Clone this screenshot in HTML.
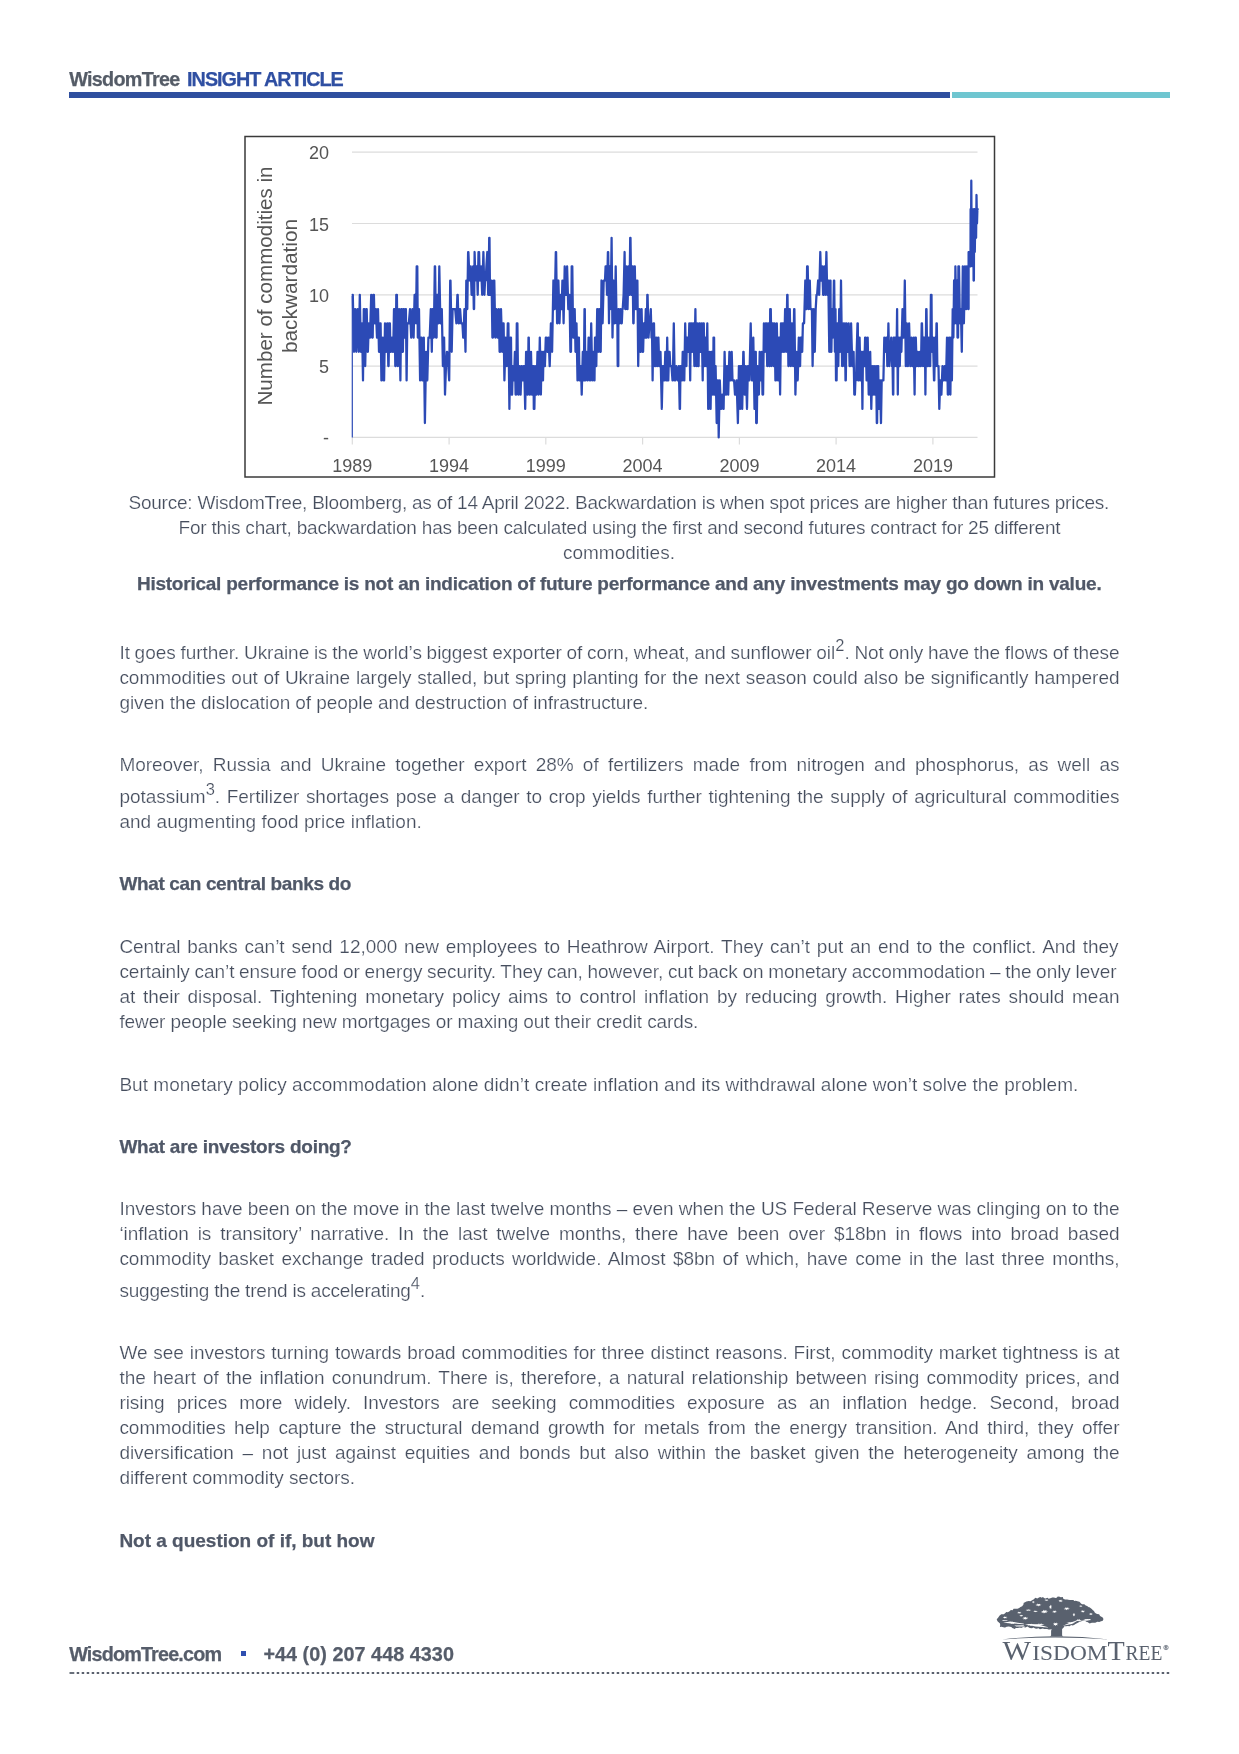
<!DOCTYPE html>
<html><head><meta charset="utf-8"><title>WisdomTree Insight Article</title>
<style>
html,body{margin:0;padding:0;background:#fff}
body{width:1239px;height:1754px;position:relative;overflow:hidden;font-family:"Liberation Sans",sans-serif}
.l{position:absolute;white-space:nowrap;height:26px;line-height:26px;font-size:19px;color:#464e5e;-webkit-text-stroke:0.22px #fff}
.b{position:absolute;white-space:nowrap;height:26px;line-height:26px;font-size:19px;color:#505868;font-weight:700;-webkit-text-stroke:0.25px #505868}
.sp{font-size:16.5px;position:relative;top:-8.2px;letter-spacing:0}
#pg{position:absolute;left:0;top:0;width:1239px;height:1754px;will-change:transform}
.hd{position:absolute;white-space:nowrap;font-weight:700;font-size:19.8px;-webkit-text-stroke:0.25px currentColor;height:26px;line-height:26px}
svg{position:absolute;left:0;top:0;overflow:visible}
</style></head><body><div id="pg">
<div class="hd" style="color:#555c67;left:69.2px;top:65.9px;letter-spacing:-0.706px">WisdomTree</div>
<div class="hd" style="color:#2f4fa2;left:187.1px;top:65.9px;letter-spacing:-1.000px">INSIGHT ARTICLE</div>
<div class="hd" style="color:#565d6a;left:69.2px;top:1641.0px;letter-spacing:-0.833px">WisdomTree.com</div>
<div class="hd" style="color:#565d6a;left:263.4px;top:1641.0px;letter-spacing:0.040px">+44 (0) 207 448 4330</div>
<div style="position:absolute;left:69px;top:92.3px;width:880.5px;height:5.6px;background:#2f4f9f"></div>
<div style="position:absolute;left:952px;top:92.3px;width:217.5px;height:5.6px;background:#6fc6d0"></div>
<svg width="1239" height="1754" viewBox="0 0 1239 1754">
<rect x="245" y="136.5" width="749.5" height="340.5" fill="#fff" stroke="#3a3a3a" stroke-width="1.5"/>
<line x1="352" y1="437.4" x2="977.5" y2="437.4" stroke="#dcdcdc" stroke-width="1.2"/><line x1="352" y1="366.1" x2="977.5" y2="366.1" stroke="#dcdcdc" stroke-width="1.2"/><line x1="352" y1="294.8" x2="977.5" y2="294.8" stroke="#dcdcdc" stroke-width="1.2"/><line x1="352" y1="223.5" x2="977.5" y2="223.5" stroke="#dcdcdc" stroke-width="1.2"/><line x1="352" y1="152.2" x2="977.5" y2="152.2" stroke="#dcdcdc" stroke-width="1.2"/><line x1="352.3" y1="437.4" x2="352.3" y2="444.5" stroke="#dcdcdc" stroke-width="1.2"/><line x1="449.1" y1="437.4" x2="449.1" y2="444.5" stroke="#dcdcdc" stroke-width="1.2"/><line x1="545.8" y1="437.4" x2="545.8" y2="444.5" stroke="#dcdcdc" stroke-width="1.2"/><line x1="642.6" y1="437.4" x2="642.6" y2="444.5" stroke="#dcdcdc" stroke-width="1.2"/><line x1="739.4" y1="437.4" x2="739.4" y2="444.5" stroke="#dcdcdc" stroke-width="1.2"/><line x1="836.1" y1="437.4" x2="836.1" y2="444.5" stroke="#dcdcdc" stroke-width="1.2"/><line x1="932.9" y1="437.4" x2="932.9" y2="444.5" stroke="#dcdcdc" stroke-width="1.2"/>
<g font-family="Liberation Sans, sans-serif" font-size="18" fill="#555555"><text x="352.3" y="472" text-anchor="middle">1989</text><text x="449.1" y="472" text-anchor="middle">1994</text><text x="545.8" y="472" text-anchor="middle">1999</text><text x="642.6" y="472" text-anchor="middle">2004</text><text x="739.4" y="472" text-anchor="middle">2009</text><text x="836.1" y="472" text-anchor="middle">2014</text><text x="932.9" y="472" text-anchor="middle">2019</text><text x="329" y="159.2" text-anchor="end">20</text><text x="329" y="230.5" text-anchor="end">15</text><text x="329" y="301.8" text-anchor="end">10</text><text x="329" y="373.1" text-anchor="end">5</text><text x="329" y="444.4" text-anchor="end">-</text><text font-size="20" transform="translate(271.8,286) rotate(-90)" text-anchor="middle" textLength="239" lengthAdjust="spacingAndGlyphs">Number of commodities in</text><text font-size="20" transform="translate(297.3,286) rotate(-90)" text-anchor="middle" textLength="134" lengthAdjust="spacingAndGlyphs">backwardation</text></g>
<path d="M352.6 294.8 L352.8 294.8 L354.0 351.8 L355.0 309.1 L355.3 309.1 L356.3 351.8 L357.6 309.1 L358.8 351.8 L359.8 294.8 L360.9 351.8 L362.0 323.3 L363.0 380.4 L363.8 309.1 L364.4 309.1 L365.2 366.1 L366.4 309.1 L366.7 309.1 L367.6 351.8 L367.9 351.8 L368.8 323.3 L370.0 337.6 L371.2 294.8 L372.1 337.6 L372.7 337.6 L373.3 294.8 L373.9 294.8 L374.6 323.3 L374.9 323.3 L375.9 309.1 L377.0 337.6 L378.0 309.1 L379.0 351.8 L379.3 351.8 L380.0 323.3 L380.6 323.3 L381.4 380.4 L381.7 380.4 L382.8 337.6 L383.8 380.4 L384.1 380.4 L385.0 323.3 L386.0 351.8 L386.3 351.8 L387.2 323.3 L387.5 323.3 L388.3 366.1 L388.6 366.1 L389.3 323.3 L389.9 323.3 L390.4 351.8 L391.0 351.8 L391.9 337.6 L392.9 351.8 L393.2 351.8 L394.0 309.1 L394.6 309.1 L395.3 366.1 L395.6 366.1 L396.3 294.8 L396.9 294.8 L397.7 366.1 L398.0 366.1 L399.1 309.1 L400.4 380.4 L401.2 309.1 L401.8 309.1 L402.3 351.8 L402.9 351.8 L403.4 309.1 L404.0 309.1 L404.8 337.6 L405.6 309.1 L405.9 309.1 L406.6 380.4 L407.3 323.3 L407.9 323.3 L408.8 323.3 L410.0 309.1 L411.2 337.6 L412.4 309.1 L413.6 337.6 L414.6 294.8 L415.2 294.8 L416.0 323.3 L416.7 266.3 L417.3 266.3 L417.8 337.6 L418.1 337.6 L419.0 309.1 L420.1 380.4 L421.0 337.6 L421.6 337.6 L422.3 380.4 L422.9 380.4 L423.8 337.6 L424.9 423.1 L426.1 351.8 L427.3 380.4 L428.4 337.6 L428.7 337.6 L429.7 337.6 L430.8 309.1 L431.8 351.8 L432.5 309.1 L433.1 309.1 L433.8 337.6 L434.8 266.3 L435.1 266.3 L436.0 337.6 L436.6 337.6 L437.0 294.8 L437.6 294.8 L437.9 323.3 L438.5 323.3 L439.3 266.3 L440.4 323.3 L440.7 323.3 L441.8 309.1 L442.9 366.1 L443.8 337.6 L444.1 337.6 L445.0 394.6 L446.0 366.1 L446.9 351.8 L447.2 351.8 L448.0 366.1 L448.3 366.1 L449.2 380.4 L450.2 280.5 L450.5 280.5 L451.7 351.8 L452.6 309.1 L453.2 309.1 L453.9 309.1 L454.2 309.1 L455.2 309.1 L456.4 323.3 L457.4 294.8 L457.7 294.8 L458.5 323.3 L459.1 323.3 L459.8 309.1 L460.1 309.1 L461.1 323.3 L462.1 323.3 L462.4 323.3 L463.2 337.6 L463.5 337.6 L464.4 309.1 L465.5 351.8 L466.3 280.5 L466.6 280.5 L467.3 309.1 L468.1 252.0 L468.4 252.0 L469.5 280.5 L470.7 266.3 L471.6 294.8 L472.2 294.8 L473.1 266.3 L473.8 309.1 L474.1 309.1 L474.6 252.0 L475.4 280.5 L476.3 266.3 L476.9 266.3 L477.7 294.8 L478.5 252.0 L479.1 252.0 L479.8 280.5 L480.1 280.5 L481.1 266.3 L482.2 294.8 L483.4 252.0 L484.4 294.8 L485.1 280.5 L485.7 280.5 L486.4 266.3 L487.3 252.0 L488.2 294.8 L488.5 294.8 L489.2 237.8 L489.5 237.8 L490.0 294.8 L490.6 294.8 L491.3 280.5 L491.6 280.5 L492.4 337.6 L493.0 337.6 L493.7 280.5 L494.3 280.5 L495.3 337.6 L496.5 309.1 L497.6 337.6 L498.8 309.1 L499.6 351.8 L500.2 351.8 L501.0 309.1 L502.2 351.8 L503.0 323.3 L503.6 323.3 L504.4 380.4 L505.6 337.6 L506.9 366.1 L507.8 323.3 L508.4 323.3 L509.4 408.9 L510.4 337.6 L511.0 337.6 L511.5 394.6 L512.1 394.6 L512.8 366.1 L513.7 380.4 L514.0 380.4 L514.9 351.8 L515.6 394.6 L516.2 394.6 L516.8 323.3 L517.4 323.3 L518.2 394.6 L518.5 394.6 L519.5 366.1 L520.6 394.6 L521.5 366.1 L521.8 366.1 L522.7 380.4 L523.6 366.1 L524.2 366.1 L525.2 408.9 L526.1 351.8 L526.7 351.8 L527.2 394.6 L527.8 394.6 L528.5 337.6 L528.8 337.6 L529.5 394.6 L530.1 394.6 L531.0 351.8 L532.0 394.6 L532.3 394.6 L532.9 366.1 L533.5 366.1 L533.8 408.9 L534.4 408.9 L535.1 366.1 L536.1 394.6 L536.4 394.6 L537.5 351.8 L538.7 394.6 L539.8 337.6 L540.9 394.6 L541.5 351.8 L542.1 351.8 L542.7 380.4 L543.0 380.4 L543.5 351.8 L544.1 351.8 L544.9 366.1 L545.8 337.6 L546.4 337.6 L547.3 351.8 L548.3 337.6 L548.6 337.6 L549.7 366.1 L550.9 323.3 L552.1 351.8 L553.4 280.5 L554.7 309.1 L555.8 252.0 L556.1 252.0 L557.1 323.3 L557.4 323.3 L558.4 280.5 L559.5 323.3 L560.5 294.8 L561.4 309.1 L561.7 309.1 L562.4 280.5 L562.7 280.5 L563.6 323.3 L564.7 266.3 L565.8 294.8 L566.1 294.8 L567.1 266.3 L568.3 309.1 L569.5 294.8 L570.4 351.8 L571.0 351.8 L571.7 266.3 L572.3 266.3 L573.1 337.6 L573.7 337.6 L574.4 309.1 L574.7 309.1 L575.5 351.8 L576.5 323.3 L577.5 380.4 L578.3 337.6 L578.9 337.6 L579.5 380.4 L579.8 380.4 L580.4 366.1 L581.0 366.1 L581.7 394.6 L582.8 351.8 L583.8 380.4 L584.5 309.1 L584.8 309.1 L585.3 380.4 L586.3 351.8 L587.4 380.4 L587.7 380.4 L588.6 337.6 L588.9 337.6 L589.9 380.4 L590.2 380.4 L591.2 323.3 L592.3 380.4 L593.3 351.8 L594.2 380.4 L594.5 380.4 L595.0 337.6 L595.6 337.6 L596.3 366.1 L597.2 309.1 L597.5 309.1 L598.3 351.8 L599.4 309.1 L600.1 351.8 L600.7 351.8 L601.5 280.5 L602.6 323.3 L603.7 280.5 L604.7 280.5 L605.0 280.5 L605.6 266.3 L606.2 266.3 L607.0 294.8 L607.9 252.0 L608.2 252.0 L609.0 323.3 L609.6 266.3 L610.2 266.3 L610.7 309.1 L611.6 237.8 L612.5 337.6 L613.5 280.5 L614.5 323.3 L614.8 323.3 L615.7 266.3 L616.6 323.3 L617.3 309.1 L617.7 366.1 L618.3 366.1 L618.4 309.1 L618.7 309.1 L619.4 323.3 L620.5 309.1 L621.2 323.3 L621.8 323.3 L622.4 309.1 L622.7 309.1 L623.6 294.8 L624.6 252.0 L625.2 309.1 L625.8 309.1 L626.5 266.3 L627.5 309.1 L628.5 266.3 L629.5 294.8 L630.2 237.8 L630.5 237.8 L631.2 294.8 L632.0 266.3 L632.6 266.3 L633.3 323.3 L633.6 323.3 L634.5 266.3 L634.8 266.3 L635.6 309.1 L636.2 309.1 L636.8 280.5 L637.4 280.5 L638.2 366.1 L639.2 309.1 L639.5 309.1 L640.2 351.8 L640.8 351.8 L641.6 309.1 L642.5 351.8 L643.1 351.8 L643.8 323.3 L644.1 323.3 L644.9 337.6 L645.8 309.1 L646.5 337.6 L646.8 337.6 L647.3 294.8 L647.6 294.8 L648.5 337.6 L649.5 323.3 L649.8 323.3 L650.8 309.1 L651.5 337.6 L652.1 337.6 L652.6 380.4 L653.4 323.3 L654.0 323.3 L654.7 366.1 L655.3 366.1 L656.0 337.6 L656.3 337.6 L657.2 366.1 L658.1 337.6 L658.4 337.6 L659.2 366.1 L659.5 366.1 L660.5 351.8 L661.8 408.9 L662.7 366.1 L663.3 366.1 L663.9 380.4 L664.5 380.4 L665.3 351.8 L666.2 380.4 L666.5 380.4 L667.2 337.6 L668.0 380.4 L668.3 380.4 L669.0 351.8 L669.6 351.8 L670.3 366.1 L670.6 366.1 L671.5 366.1 L672.5 380.4 L672.8 380.4 L673.8 323.3 L674.7 380.4 L675.3 380.4 L676.3 366.1 L677.7 380.4 L678.8 366.1 L679.7 408.9 L680.0 408.9 L680.5 366.1 L681.1 366.1 L681.5 380.4 L682.1 380.4 L682.7 351.8 L683.3 351.8 L684.0 380.4 L684.3 380.4 L685.2 323.3 L686.1 366.1 L686.4 366.1 L686.9 337.6 L687.5 337.6 L688.0 351.8 L688.6 351.8 L689.3 323.3 L690.2 380.4 L690.8 323.3 L691.4 323.3 L691.8 351.8 L692.4 351.8 L692.9 323.3 L693.5 323.3 L694.4 366.1 L695.4 309.1 L696.1 366.1 L696.4 366.1 L697.2 323.3 L698.0 366.1 L698.6 366.1 L699.2 323.3 L699.8 323.3 L700.3 351.8 L700.9 351.8 L701.7 323.3 L702.7 380.4 L703.2 323.3 L703.8 323.3 L704.3 366.1 L705.3 337.6 L706.1 366.1 L706.4 366.1 L707.3 323.3 L708.2 408.9 L708.5 408.9 L709.5 351.8 L710.6 408.9 L711.4 351.8 L712.0 351.8 L712.6 394.6 L713.2 394.6 L713.5 337.6 L714.1 337.6 L714.4 394.6 L715.0 394.6 L715.6 366.1 L716.7 423.1 L717.4 380.4 L718.0 380.4 L718.7 437.4 L719.8 380.4 L720.9 408.9 L721.2 408.9 L722.2 394.6 L723.3 408.9 L723.6 408.9 L724.6 351.8 L725.5 394.6 L726.1 394.6 L726.9 366.1 L727.2 366.1 L728.2 394.6 L729.4 351.8 L730.4 380.4 L730.7 380.4 L731.7 351.8 L732.5 380.4 L733.1 380.4 L734.1 380.4 L735.0 394.6 L735.6 394.6 L736.6 380.4 L737.9 423.1 L738.9 366.1 L739.2 366.1 L740.1 408.9 L740.8 366.1 L741.4 366.1 L742.2 408.9 L743.3 351.8 L743.6 351.8 L744.5 394.6 L744.8 394.6 L745.8 366.1 L747.0 408.9 L747.9 366.1 L748.5 366.1 L749.4 380.4 L750.7 323.3 L751.9 380.4 L752.2 380.4 L753.3 337.6 L754.5 408.9 L755.2 351.8 L755.8 351.8 L756.2 423.1 L756.8 423.1 L757.5 366.1 L758.3 394.6 L758.9 394.6 L759.7 351.8 L760.7 380.4 L761.8 351.8 L762.5 394.6 L763.1 394.6 L763.9 323.3 L765.0 351.8 L765.8 323.3 L766.4 323.3 L767.2 366.1 L768.2 323.3 L768.5 323.3 L769.2 366.1 L769.8 366.1 L770.2 309.1 L770.8 309.1 L771.5 366.1 L772.3 323.3 L772.9 323.3 L773.6 366.1 L774.6 323.3 L775.4 380.4 L776.0 380.4 L776.8 323.3 L778.0 380.4 L778.8 337.6 L779.4 337.6 L780.1 394.6 L781.0 323.3 L781.3 323.3 L782.1 351.8 L782.6 323.3 L783.2 323.3 L783.6 351.8 L784.2 351.8 L785.1 309.1 L786.2 351.8 L787.2 294.8 L787.5 294.8 L788.4 366.1 L788.7 366.1 L789.5 309.1 L789.8 309.1 L790.8 366.1 L791.8 323.3 L792.1 323.3 L793.0 366.1 L793.3 366.1 L794.1 309.1 L794.4 309.1 L795.4 394.6 L796.5 351.8 L797.7 380.4 L798.8 337.6 L799.8 366.1 L800.1 366.1 L800.6 337.6 L801.2 337.6 L801.6 351.8 L802.2 351.8 L802.9 323.3 L803.8 323.3 L804.1 323.3 L805.3 280.5 L806.3 309.1 L806.6 309.1 L807.1 266.3 L807.7 266.3 L808.5 309.1 L809.2 280.5 L809.8 280.5 L810.5 309.1 L811.3 309.1 L811.9 309.1 L812.6 366.1 L813.6 309.1 L814.5 351.8 L814.8 351.8 L815.7 309.1 L816.5 294.8 L817.1 294.8 L818.1 280.5 L819.2 294.8 L820.3 252.0 L821.1 280.5 L821.4 280.5 L822.3 266.3 L823.1 294.8 L823.7 294.8 L824.4 266.3 L825.4 294.8 L826.4 252.0 L827.2 294.8 L827.5 294.8 L828.3 280.5 L829.3 351.8 L829.9 280.5 L830.5 280.5 L830.8 351.8 L831.4 351.8 L832.0 309.1 L833.0 337.6 L833.9 280.5 L834.2 280.5 L834.9 351.8 L835.5 309.1 L836.0 380.4 L836.6 380.4 L837.2 323.3 L837.5 323.3 L838.3 366.1 L839.2 309.1 L839.9 351.8 L840.2 351.8 L841.0 280.5 L842.1 366.1 L843.3 323.3 L844.2 366.1 L844.9 323.3 L845.5 380.4 L845.8 380.4 L846.5 323.3 L847.2 351.8 L847.8 351.8 L848.7 323.3 L849.6 366.1 L850.2 366.1 L851.1 323.3 L852.3 366.1 L853.3 351.8 L853.6 351.8 L854.3 394.6 L854.9 394.6 L855.4 380.4 L856.0 380.4 L856.7 351.8 L857.5 323.3 L857.8 323.3 L858.2 380.4 L858.8 380.4 L859.3 337.6 L859.6 337.6 L860.5 380.4 L861.2 351.8 L861.8 351.8 L862.4 408.9 L863.0 351.8 L863.6 351.8 L864.1 366.1 L864.4 366.1 L865.1 337.6 L865.7 337.6 L866.6 380.4 L867.7 337.6 L868.7 394.6 L869.3 394.6 L870.2 351.8 L871.3 408.9 L872.2 366.1 L873.1 394.6 L874.1 366.1 L874.9 394.6 L875.5 394.6 L876.1 366.1 L876.8 423.1 L877.1 423.1 L877.6 366.1 L878.2 366.1 L878.8 408.9 L879.1 408.9 L880.0 380.4 L881.0 423.1 L881.7 380.4 L882.3 380.4 L882.8 380.4 L883.4 380.4 L884.3 337.6 L885.4 351.8 L886.2 337.6 L886.8 337.6 L887.3 366.1 L887.6 366.1 L888.4 323.3 L889.3 366.1 L890.1 351.8 L890.4 351.8 L891.2 337.6 L892.0 366.1 L892.6 366.1 L893.0 394.6 L893.3 394.6 L893.6 337.6 L894.2 337.6 L894.4 366.1 L895.0 366.1 L895.4 337.6 L895.7 337.6 L896.4 366.1 L897.1 309.1 L897.8 394.6 L898.4 337.6 L899.0 337.6 L899.2 366.1 L899.8 366.1 L900.4 337.6 L901.4 351.8 L902.5 309.1 L903.3 337.6 L903.9 337.6 L904.8 280.5 L905.8 366.1 L906.1 366.1 L906.8 323.3 L907.9 366.1 L909.1 323.3 L910.3 366.1 L911.5 337.6 L912.4 366.1 L913.0 366.1 L913.7 337.6 L914.6 394.6 L915.2 337.6 L915.8 337.6 L916.6 366.1 L917.5 351.8 L917.8 351.8 L918.4 366.1 L919.0 366.1 L919.8 351.8 L920.7 366.1 L921.0 366.1 L921.7 323.3 L922.0 323.3 L922.9 366.1 L923.5 337.6 L923.8 337.6 L924.0 366.1 L924.3 366.1 L924.6 337.6 L924.9 337.6 L925.4 394.6 L926.2 309.1 L926.5 309.1 L927.3 366.1 L927.9 366.1 L928.8 337.6 L929.9 366.1 L930.2 366.1 L930.9 294.8 L931.5 294.8 L931.9 351.8 L932.2 351.8 L933.0 337.6 L934.0 380.4 L934.3 380.4 L935.1 337.6 L935.8 366.1 L936.5 323.3 L936.8 323.3 L937.3 366.1 L937.6 366.1 L938.2 366.1 L938.5 366.1 L939.3 408.9 L940.2 380.4 L940.5 380.4 L941.4 394.6 L942.5 366.1 L943.3 380.4 L943.9 380.4 L944.7 366.1 L945.7 380.4 L946.0 380.4 L947.0 337.6 L947.8 394.6 L948.4 394.6 L949.1 337.6 L949.4 337.6 L950.4 394.6 L951.0 337.6 L951.6 337.6 L951.9 380.4 L952.7 309.1 L953.4 337.6 L954.1 280.5 L954.6 323.3 L954.9 323.3 L955.4 266.3 L956.3 323.3 L956.9 280.5 L957.2 280.5 L957.5 337.6 L958.1 337.6 L958.4 266.3 L959.0 266.3 L959.9 323.3 L960.9 309.1 L961.8 351.8 L962.8 266.3 L963.9 323.3 L965.0 266.3 L965.8 309.1 L966.4 309.1 L966.9 266.3 L967.3 294.8 L967.6 294.8 L967.9 266.3 L968.3 309.1 L968.6 309.1 L968.6 252.0 L968.8 266.3 L969.4 266.3 L969.3 252.0 L969.9 252.0 L969.9 266.3 L970.5 266.3 L970.6 209.2 L970.9 266.3 L971.3 180.7 L971.7 252.0 L972.1 209.2 L972.4 209.2 L972.7 266.3 L973.1 223.5 L973.4 223.5 L973.6 280.5 L973.9 280.5 L974.1 209.2 L974.4 209.2 L974.8 252.0 L975.4 209.2 L975.8 237.8 L976.1 237.8 L976.5 195.0 L977.0 223.5 L977.4 209.2 L977.7 209.2" fill="none" stroke="#2c4ab6" stroke-width="2.25" stroke-linejoin="round" stroke-linecap="round"/>
<line x1="352.3" y1="437.4" x2="352.3" y2="296" stroke="#2c4ab6" stroke-width="1.2"/>
</svg>
<div class="l" style="left:119.4px;top:640.4px;letter-spacing:-0.04px;word-spacing:-0.489px">It goes further. Ukraine is the world’s biggest exporter of corn, wheat, and sunflower oil<span class="sp">2</span>. Not only have the flows of these</div>
<div class="l" style="left:119.4px;top:665.4px;letter-spacing:-0.04px;word-spacing:0.524px">commodities out of Ukraine largely stalled, but spring planting for the next season could also be significantly hampered</div>
<div class="l" style="left:119.4px;top:690.4px;letter-spacing:-0.068px">given the dislocation of people and destruction of infrastructure.</div>
<div class="l" style="left:119.4px;top:752.2px;letter-spacing:-0.04px;word-spacing:4.030px">Moreover, Russia and Ukraine together export 28% of fertilizers made from nitrogen and phosphorus, as well as</div>
<div class="l" style="left:119.4px;top:783.7px;letter-spacing:-0.04px;word-spacing:1.460px">potassium<span class="sp">3</span>. Fertilizer shortages pose a danger to crop yields further tightening the supply of agricultural commodities</div>
<div class="l" style="left:119.4px;top:809.2px;letter-spacing:0.039px">and augmenting food price inflation.</div>
<div class="l" style="left:119.4px;top:933.7px;letter-spacing:-0.04px;word-spacing:1.643px">Central banks can’t send 12,000 new employees to Heathrow Airport. They can’t put an end to the conflict. And they</div>
<div class="l" style="left:119.4px;top:958.7px;letter-spacing:-0.04px;word-spacing:-0.574px">certainly can’t ensure food or energy security. They can, however, cut back on monetary accommodation – the only lever</div>
<div class="l" style="left:119.4px;top:983.7px;letter-spacing:-0.04px;word-spacing:2.595px">at their disposal. Tightening monetary policy aims to control inflation by reducing growth. Higher rates should mean</div>
<div class="l" style="left:119.4px;top:1008.7px;letter-spacing:-0.107px">fewer people seeking new mortgages or maxing out their credit cards.</div>
<div class="l" style="left:119.4px;top:1071.6px;letter-spacing:0.028px">But monetary policy accommodation alone didn’t create inflation and its withdrawal alone won’t solve the problem.</div>
<div class="l" style="left:119.4px;top:1196.2px;letter-spacing:-0.04px;word-spacing:0.012px">Investors have been on the move in the last twelve months – even when the US Federal Reserve was clinging on to the</div>
<div class="l" style="left:119.4px;top:1221.2px;letter-spacing:-0.04px;word-spacing:3.693px">‘inflation is transitory’ narrative. In the last twelve months, there have been over $18bn in flows into broad based</div>
<div class="l" style="left:119.4px;top:1246.2px;letter-spacing:-0.04px;word-spacing:2.184px">commodity basket exchange traded products worldwide. Almost $8bn of which, have come in the last three months,</div>
<div class="l" style="left:119.4px;top:1277.7px;letter-spacing:-0.211px">suggesting the trend is accelerating<span class="sp">4</span>.</div>
<div class="l" style="left:119.4px;top:1339.9px;letter-spacing:-0.04px;word-spacing:0.650px">We see investors turning towards broad commodities for three distinct reasons. First, commodity market tightness is at</div>
<div class="l" style="left:119.4px;top:1364.9px;letter-spacing:-0.04px;word-spacing:1.894px">the heart of the inflation conundrum. There is, therefore, a natural relationship between rising commodity prices, and</div>
<div class="l" style="left:119.4px;top:1389.9px;letter-spacing:-0.04px;word-spacing:6.885px">rising prices more widely. Investors are seeking commodities exposure as an inflation hedge. Second, broad</div>
<div class="l" style="left:119.4px;top:1414.9px;letter-spacing:-0.04px;word-spacing:3.273px">commodities help capture the structural demand growth for metals from the energy transition. And third, they offer</div>
<div class="l" style="left:119.4px;top:1439.9px;letter-spacing:-0.04px;word-spacing:3.487px">diversification – not just against equities and bonds but also within the basket given the heterogeneity among the</div>
<div class="l" style="left:119.4px;top:1464.9px;letter-spacing:-0.061px">different commodity sectors.</div>
<div class="l" style="left:128.5px;top:490.2px;letter-spacing:-0.233px">Source: WisdomTree, Bloomberg, as of 14 April 2022. Backwardation is when spot prices are higher than futures prices.</div>
<div class="l" style="left:178.5px;top:515.2px;letter-spacing:-0.198px">For this chart, backwardation has been calculated using the first and second futures contract for 25 different</div>
<div class="l" style="left:562.9px;top:540.2px;letter-spacing:0.016px">commodities.</div>
<div class="b" style="left:136.9px;top:570.9px;letter-spacing:-0.231px">Historical performance is not an indication of future performance and any investments may go down in value.</div>
<div class="b" style="left:119.4px;top:870.9px;letter-spacing:-0.360px">What can central banks do</div>
<div class="b" style="left:119.4px;top:1134.2px;letter-spacing:-0.250px">What are investors doing?</div>
<div class="b" style="left:119.4px;top:1528.2px;letter-spacing:-0.011px">Not a question of if, but how</div>
<div style="position:absolute;left:241px;top:1651px;width:4.6px;height:4.6px;background:#2f4fb0"></div>
<svg width="1239" height="1754" viewBox="0 0 1239 1754"><line x1="69.5" y1="1673" x2="74.3" y2="1673" stroke="#59606d" stroke-width="1.8"/><line x1="76.7" y1="1673" x2="1169.3" y2="1673" stroke="#59606d" stroke-width="1.8" stroke-dasharray="2.5 2.5"/></svg>
<svg width="1239" height="1754" viewBox="0 0 1239 1754">
<path d="M996.7 1619.3 L997.9 1618.1 L999.3 1616.0 L999.4 1615.7 L1001.3 1614.3 L1003.8 1614.2 L1005.1 1613.3 L1006.3 1612.0 L1007.8 1612.2 L1009.2 1611.5 L1010.9 1610.1 L1012.6 1610.3 L1013.6 1608.8 L1016.1 1608.8 L1017.5 1608.7 L1019.2 1607.9 L1020.5 1606.9 L1022.2 1606.3 L1023.7 1603.9 L1023.5 1602.9 L1025.5 1602.0 L1026.4 1601.4 L1027.6 1601.2 L1028.8 1601.1 L1030.5 1601.2 L1032.1 1600.2 L1033.9 1599.3 L1035.3 1597.7 L1037.3 1598.4 L1039.0 1597.4 L1040.2 1597.0 L1041.9 1597.7 L1042.7 1597.1 L1045.0 1598.6 L1045.4 1598.5 L1047.4 1597.7 L1048.7 1598.8 L1051.1 1597.9 L1052.2 1597.6 L1053.9 1597.6 L1055.6 1598.1 L1056.6 1597.8 L1057.8 1596.6 L1059.8 1596.7 L1060.7 1597.3 L1062.8 1597.1 L1063.3 1598.8 L1065.1 1599.6 L1067.2 1599.4 L1068.1 1599.7 L1069.9 1600.0 L1071.3 1600.1 L1073.4 1600.1 L1074.3 1600.9 L1075.7 1600.8 L1078.4 1601.6 L1079.5 1601.8 L1081.0 1603.4 L1082.1 1604.3 L1084.3 1604.2 L1085.7 1605.4 L1087.1 1605.9 L1088.8 1607.3 L1089.5 1607.2 L1092.1 1609.3 L1092.6 1609.9 L1094.0 1611.1 L1094.7 1612.4 L1096.0 1613.6 L1097.2 1614.0 L1099.1 1614.3 L1100.1 1616.1 L1101.0 1616.5 L1103.0 1617.7 L1103.4 1619.2 L1102.8 1620.7 L1100.4 1621.4 L1099.3 1621.9 L1097.4 1621.8 L1095.2 1622.8 L1094.5 1622.8 L1092.0 1622.7 L1090.9 1623.1 L1089.8 1623.4 L1087.4 1622.0 L1086.8 1621.9 L1085.3 1620.9 L1082.3 1621.0 L1081.2 1621.2 L1079.2 1622.0 L1078.0 1622.7 L1077.4 1623.0 L1074.6 1624.6 L1074.3 1625.1 L1072.1 1625.5 L1071.3 1624.9 L1069.5 1626.2 L1067.9 1626.1 L1065.9 1626.2 L1064.3 1626.2 L1063.5 1627.7 L1062.1 1629.1 L1062.1 1630.7 L1062.1 1632.3 L1062.1 1633.8 L1062.1 1635.4 L1063.3 1636.6 L1061.9 1636.6 L1060.4 1636.6 L1058.9 1636.6 L1057.4 1636.6 L1055.9 1636.6 L1054.5 1636.6 L1053.0 1636.6 L1051.5 1636.6 L1050.0 1636.6 L1051.1 1635.4 L1051.1 1633.9 L1051.1 1632.5 L1051.1 1631.0 L1051.6 1628.9 L1050.2 1629.6 L1048.6 1629.6 L1047.1 1629.0 L1044.2 1629.1 L1042.8 1628.4 L1041.9 1628.7 L1039.9 1629.2 L1038.6 1628.3 L1036.5 1628.8 L1035.2 1628.5 L1033.4 1627.5 L1032.0 1628.2 L1029.9 1627.9 L1029.3 1627.8 L1027.4 1626.4 L1025.5 1627.4 L1023.3 1626.9 L1022.2 1627.6 L1021.0 1627.9 L1020.1 1627.5 L1017.6 1628.0 L1015.7 1627.9 L1014.9 1629.0 L1012.3 1627.9 L1011.3 1626.9 L1010.0 1626.7 L1008.8 1626.6 L1006.7 1626.8 L1005.1 1627.4 L1004.4 1627.4 L1001.5 1626.8 L999.9 1627.1 L1000.2 1624.9 L1000.0 1623.5 L997.5 1621.3Z" fill="#59616e"/>
<path d="M1022.0 1618.3 L1023.9 1618.0 L1023.2 1617.0 L1024.9 1617.5 L1026.0 1616.7 L1026.2 1617.7 L1028.3 1617.5 L1026.8 1618.2 L1028.3 1618.9 L1026.3 1618.8 L1026.1 1619.8 L1025.0 1619.0 L1023.3 1619.5 L1024.0 1618.6Z M1043.3 1609.8 L1044.7 1610.8 L1046.7 1610.1 L1046.0 1611.3 L1048.4 1611.5 L1046.1 1612.0 L1047.2 1613.1 L1045.0 1612.5 L1043.9 1613.6 L1043.5 1612.4 L1041.1 1612.7 L1042.7 1611.8 L1040.8 1611.0 L1043.3 1611.1Z M1049.2 1608.2 L1049.9 1607.0 L1049.1 1606.0 L1050.1 1606.1 L1050.1 1604.5 L1050.6 1605.8 L1051.4 1604.8 L1051.1 1606.4 L1052.0 1606.8 L1051.2 1607.4 L1051.5 1608.9 L1050.7 1608.1 L1050.3 1609.5 L1050.1 1607.9Z M1065.5 1607.1 L1066.8 1607.9 L1068.4 1607.3 L1067.9 1608.3 L1070.0 1608.5 L1068.1 1608.9 L1069.1 1609.8 L1067.2 1609.3 L1066.4 1610.3 L1065.9 1609.3 L1063.9 1609.5 L1065.2 1608.8 L1063.5 1608.2 L1065.6 1608.2Z M1080.5 1611.7 L1081.7 1611.3 L1080.9 1610.6 L1082.3 1610.9 L1082.8 1610.1 L1083.3 1610.9 L1084.7 1610.6 L1083.9 1611.2 L1085.2 1611.6 L1083.7 1611.7 L1083.9 1612.5 L1082.8 1612.0 L1081.8 1612.6 L1082.0 1611.8Z M1074.0 1616.7 L1073.7 1615.5 L1072.9 1616.0 L1073.3 1614.9 L1072.6 1614.3 L1073.4 1614.2 L1073.3 1613.0 L1073.9 1613.8 L1074.5 1612.9 L1074.4 1614.2 L1075.3 1614.2 L1074.5 1614.9 L1075.0 1615.9 L1074.2 1615.5Z M1052.6 1623.7 L1054.5 1623.6 L1054.3 1622.4 L1055.6 1623.2 L1056.9 1622.4 L1056.6 1623.6 L1058.5 1623.7 L1056.9 1624.3 L1057.9 1625.3 L1056.2 1624.9 L1055.6 1626.0 L1055.0 1624.9 L1053.2 1625.3 L1054.2 1624.3Z M1037.3 1603.6 L1038.6 1604.3 L1040.2 1603.7 L1039.7 1604.6 L1041.7 1604.8 L1039.8 1605.1 L1040.8 1605.9 L1038.9 1605.5 L1038.1 1606.4 L1037.6 1605.5 L1035.6 1605.7 L1036.9 1605.0 L1035.3 1604.5 L1037.4 1604.5Z M1062.8 1601.5 L1061.3 1601.4 L1061.2 1602.2 L1060.4 1601.5 L1059.1 1601.9 L1059.6 1601.1 L1058.2 1600.9 L1059.6 1600.6 L1059.1 1599.9 L1060.4 1600.3 L1061.2 1599.6 L1061.3 1600.4 L1062.8 1600.3 L1061.7 1600.9Z M1017.1 1613.2 L1018.2 1612.7 L1017.1 1612.2 L1018.6 1612.3 L1018.7 1611.6 L1019.5 1612.2 L1020.7 1611.8 L1020.2 1612.5 L1021.7 1612.7 L1020.3 1612.9 L1020.8 1613.6 L1019.5 1613.2 L1018.8 1613.8 L1018.6 1613.1Z M1003.0 1618.0 L1004.0 1617.5 L1002.9 1616.9 L1004.4 1617.0 L1004.6 1616.2 L1005.4 1616.9 L1006.6 1616.4 L1006.1 1617.2 L1007.6 1617.4 L1006.1 1617.7 L1006.7 1618.4 L1005.4 1618.0 L1004.6 1618.7 L1004.5 1617.9Z M1014.8 1621.9 L1013.8 1622.6 L1015.7 1623.0 L1013.6 1623.1 L1014.1 1623.9 L1012.5 1623.4 L1011.2 1624.0 L1011.3 1623.2 L1009.2 1623.2 L1010.9 1622.7 L1009.6 1622.1 L1011.6 1622.3 L1012.1 1621.5 L1012.9 1622.2Z M1034.5 1624.4 L1032.4 1624.8 L1034.3 1625.3 L1031.6 1625.2 L1031.2 1625.9 L1029.8 1625.3 L1027.4 1625.7 L1028.5 1625.0 L1025.8 1624.8 L1028.6 1624.6 L1027.7 1623.9 L1030.0 1624.3 L1031.6 1623.7 L1031.7 1624.4Z M1076.2 1621.1 L1077.2 1620.4 L1075.2 1620.1 L1077.4 1620.0 L1076.8 1619.3 L1078.6 1619.8 L1080.0 1619.2 L1079.9 1619.9 L1082.2 1619.9 L1080.4 1620.3 L1081.9 1620.9 L1079.7 1620.7 L1079.2 1621.4 L1078.3 1620.7Z M1092.6 1613.2 L1091.8 1613.9 L1092.9 1614.3 L1091.6 1614.4 L1091.8 1615.2 L1090.9 1614.6 L1089.9 1615.2 L1090.1 1614.4 L1088.8 1614.3 L1090.0 1613.9 L1089.3 1613.2 L1090.5 1613.5 L1090.9 1612.7 L1091.3 1613.5Z M1036.1 1610.5 L1036.2 1611.1 L1037.9 1611.0 L1036.6 1611.4 L1037.8 1611.8 L1036.1 1611.7 L1035.9 1612.3 L1035.1 1611.8 L1033.6 1612.1 L1034.3 1611.6 L1032.7 1611.4 L1034.3 1611.2 L1033.8 1610.6 L1035.2 1611.0Z M1054.4 1613.0 L1054.0 1612.2 L1052.3 1612.4 L1053.4 1611.8 L1052.0 1611.3 L1053.7 1611.3 L1053.6 1610.5 L1054.7 1611.1 L1055.9 1610.6 L1055.6 1611.4 L1057.3 1611.5 L1055.7 1611.9 L1056.6 1612.6 L1055.0 1612.2Z M1025.4 1610.4 L1027.0 1610.1 L1026.0 1609.6 L1027.7 1609.8 L1028.3 1609.2 L1028.9 1609.8 L1030.7 1609.6 L1029.7 1610.1 L1031.3 1610.4 L1029.4 1610.4 L1029.7 1611.0 L1028.3 1610.6 L1027.0 1611.1 L1027.3 1610.5Z M1048.2 1600.8 L1046.9 1600.5 L1046.3 1601.1 L1045.9 1600.5 L1044.5 1600.6 L1045.4 1600.1 L1044.2 1599.8 L1045.7 1599.8 L1045.7 1599.2 L1046.6 1599.7 L1047.8 1599.3 L1047.4 1599.9 L1048.9 1600.0 L1047.5 1600.2Z M1072.5 1621.9 L1072.2 1622.5 L1075.1 1622.5 L1072.7 1622.9 L1074.4 1623.4 L1071.7 1623.2 L1071.0 1623.8 L1069.9 1623.2 L1067.3 1623.4 L1068.7 1622.9 L1066.2 1622.6 L1069.0 1622.5 L1068.5 1621.9 L1070.6 1622.4Z M1085.1 1618.9 L1086.7 1619.3 L1088.0 1618.9 L1087.9 1619.5 L1090.0 1619.4 L1088.3 1619.8 L1089.7 1620.3 L1087.6 1620.1 L1087.2 1620.7 L1086.3 1620.2 L1084.5 1620.4 L1085.4 1619.9 L1083.5 1619.6 L1085.6 1619.5Z M1022.9 1615.1 L1022.2 1615.6 L1023.4 1615.9 L1022.0 1616.0 L1022.3 1616.6 L1021.3 1616.2 L1020.4 1616.6 L1020.6 1616.0 L1019.2 1616.0 L1020.3 1615.6 L1019.6 1615.2 L1020.8 1615.3 L1021.2 1614.8 L1021.7 1615.3Z M1041.6 1623.4 L1041.8 1624.0 L1044.6 1623.9 L1042.5 1624.3 L1044.5 1624.8 L1041.7 1624.7 L1041.3 1625.3 L1039.9 1624.7 L1037.5 1625.0 L1038.6 1624.5 L1035.9 1624.3 L1038.6 1624.1 L1037.8 1623.5 L1040.1 1623.9Z M1032.6 1601.0 L1033.3 1601.5 L1033.9 1600.9 L1033.9 1601.7 L1034.8 1601.7 L1034.1 1602.2 L1034.6 1602.8 L1033.7 1602.6 L1033.5 1603.4 L1033.1 1602.6 L1032.3 1603.0 L1032.7 1602.3 L1031.9 1601.9 L1032.8 1601.8Z M1080.6 1605.2 L1081.1 1605.7 L1082.1 1605.5 L1081.6 1606.0 L1082.6 1606.3 L1081.5 1606.4 L1081.8 1607.0 L1080.9 1606.6 L1080.2 1607.1 L1080.2 1606.4 L1079.1 1606.5 L1080.0 1606.1 L1079.3 1605.6 L1080.4 1605.8Z" fill="#fff"/>
<path d="M1024.8 1624.1 L1037.4 1624.3 L1049.0 1627.5 L1035.4 1626.5Z M1062.8 1625.8 L1070.7 1622.5 L1079.8 1619.5 L1071.7 1624.1Z M1003.1 1622.7 L1010.2 1621.6 L1023.3 1623.4 L1024.5 1624.3 L1012.2 1623.4Z M1014.2 1625.6 L1023.3 1625.3 L1025.1 1626.6 L1016.4 1626.6Z M1081.3 1620.3 L1089.9 1618.9 L1091.1 1619.9 L1084.8 1620.7Z M1002.1 1620.3 L1007.2 1619.9 L1007.7 1620.6 L1002.9 1621.0Z" fill="#fff"/>
<path d="M1002.1 1639.5 Q1055.6 1632.8 1109.2 1639.5 Q1055.6 1635.6 1002.1 1639.5Z" fill="#59616e"/>
<g font-family="Liberation Serif, serif" fill="#59616e" >
<text x="1002.6" y="1660.3" font-size="27.6" textLength="28.4" lengthAdjust="spacingAndGlyphs">W</text>
<text x="1032.3" y="1660.3" font-size="21.6" textLength="75.3" lengthAdjust="spacingAndGlyphs">ISDOM</text>
<text x="1107.4" y="1660.3" font-size="27.6" textLength="17.2" lengthAdjust="spacingAndGlyphs">T</text>
<text x="1125.6" y="1660.3" font-size="21.6" textLength="36.8" lengthAdjust="spacingAndGlyphs">REE</text>
</g>
<circle cx="1166" cy="1647.5" r="2.2" fill="none" stroke="#59616e" stroke-width="0.7"/>
<text x="1166" y="1648.9" font-family="Liberation Sans, sans-serif" font-size="3.6" font-weight="700" text-anchor="middle" fill="#59616e">R</text>
</svg>
</div></body></html>
